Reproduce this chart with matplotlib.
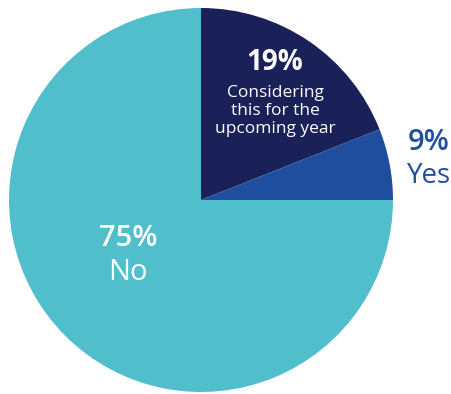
import matplotlib.pyplot as plt

plt.rcParams['font.family'] = ['Open Sans', 'DejaVu Sans']

# slice sizes as drawn (share of the circle), labels as printed
labels = ['Considering this for the upcoming year', 'Yes', 'No']
sizes = [19, 6, 75]
pct_text = ['19%', '9%', '75%']
colors = ['#192158', '#1F4E9F', '#50BFCB']

fig = plt.figure(figsize=(4.52, 3.94), dpi=100)
ax = fig.add_axes([0, 0, 1, 1])

ax.pie(sizes, colors=colors, startangle=90, counterclock=False,
       center=(201, 194), radius=192, wedgeprops=dict(linewidth=0))

# pie() resets the limits, so set them afterwards
ax.set_xlim(0, 452)
ax.set_ylim(0, 394)
ax.set_aspect('equal')
ax.axis('off')

# labels inside / beside the slices
ax.text(275, 332, pct_text[0], color='white', fontsize=20, fontweight='bold',
        ha='center', va='center')
ax.text(275, 283, 'Considering\nthis for the\nupcoming year', color='white',
        fontsize=12.5, ha='center', va='center', linespacing=1.2)

ax.text(429, 252, pct_text[1], color=colors[1], fontsize=21, fontweight='semibold',
        ha='center', va='center')
ax.text(429, 218, labels[1], color=colors[1], fontsize=20,
        ha='center', va='center')

ax.text(128, 156, pct_text[2], color='white', fontsize=21, fontweight='semibold',
        ha='center', va='center')
ax.text(128, 122, labels[2], color='white', fontsize=21,
        ha='center', va='center')

fig.savefig('out.png', dpi=100)
